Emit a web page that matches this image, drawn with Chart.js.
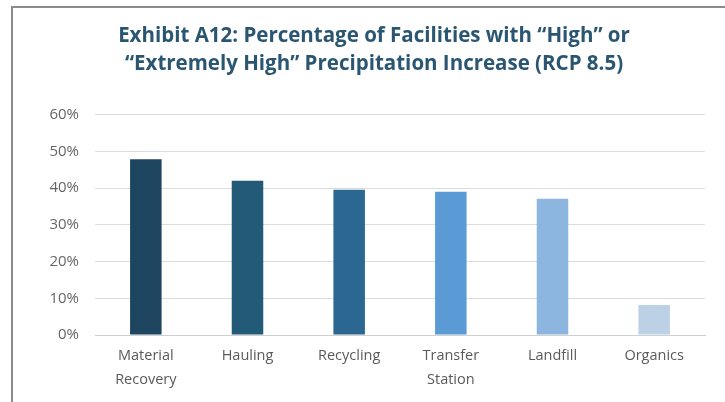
<!DOCTYPE html>
<html>
<head>
<meta charset="utf-8">
<script src="https://cdn.jsdelivr.net/npm/chart.js@4.4.0/dist/chart.umd.min.js"></script>
<style>
  html, body { margin: 0; padding: 0; background: #fff; }
  #frame {
    position: absolute; left: 11px; top: 6px; width: 714px; height: 396px;
    border-left: 2px solid #8c8c8c; border-top: 2px solid #8c8c8c;
  }
  #wrap { position: absolute; left: 0; top: 0; width: 712px; height: 394px; }
</style>
</head>
<body>
<div id="frame"><div id="wrap"><canvas id="myChart"></canvas></div></div>
<script>
var categories = [['Material', 'Recovery'], 'Hauling', 'Recycling', ['Transfer', 'Station'], 'Landfill', 'Organics'];
var percentHigh = [47.9, 42.0, 39.6, 39.0, 37.1, 8.2];
var barColors = ['#1e4560', '#235a78', '#2b6791', '#5b9bd5', '#8cb6df', '#bcd1e5'];
var yTicks = [0, 10, 20, 30, 40, 50, 60];

window.onload = function() {
    var ctx = document.getElementById('myChart').getContext('2d');
    var chart = new Chart(ctx, {
        type: 'bar',
        data: {
            labels: categories,
            datasets: [{
                data: percentHigh,
                backgroundColor: barColors,
                borderWidth: 0,
                barPercentage: 0.31,
                categoryPercentage: 1.0
            }]
        },
        options: {
            responsive: true,
            maintainAspectRatio: false,
            animation: false,
            layout: {
                padding: { left: 30, right: 20, top: 0, bottom: 0 }
            },
            plugins: {
                legend: { display: false },
                tooltip: { enabled: false },
                title: {
                    display: true,
                    text: ['Exhibit A12: Percentage of Facilities with \u201cHigh\u201d or',
                           '\u201cExtremely High\u201d Precipitation Increase (RCP 8.5)'],
                    color: '#2b5672',
                    font: { family: 'Open Sans', size: 20.5, weight: 'bold', lineHeight: 1.36 },
                    padding: { top: 14, bottom: 37 }
                }
            },
            scales: {
                x: {
                    grid: { display: false, drawTicks: false },
                    border: { display: true, color: '#d0d0d0', width: 1 },
                    ticks: {
                        color: '#5a5a5a',
                        font: { family: 'Open Sans', size: 14.5, lineHeight: 1.65 },
                        padding: 9,
                        maxRotation: 0,
                        autoSkip: false
                    },
                    afterFit: function(scale) { scale.height = 67; }
                },
                y: {
                    min: 0,
                    max: 60,
                    afterBuildTicks: function(scale) {
                        scale.ticks = yTicks.map(function(v) { return { value: v }; });
                    },
                    grid: { color: '#dcdcdc', lineWidth: 1, drawTicks: false },
                    border: { display: false },
                    ticks: {
                        color: '#666666',
                        font: { family: 'Open Sans', size: 15 },
                        padding: 16,
                        callback: function(v) { return v + '%'; }
                    },
                    afterFit: function(scale) { scale.width = 52; }
                }
            }
        }
    });
};
</script>
</body>
</html>
